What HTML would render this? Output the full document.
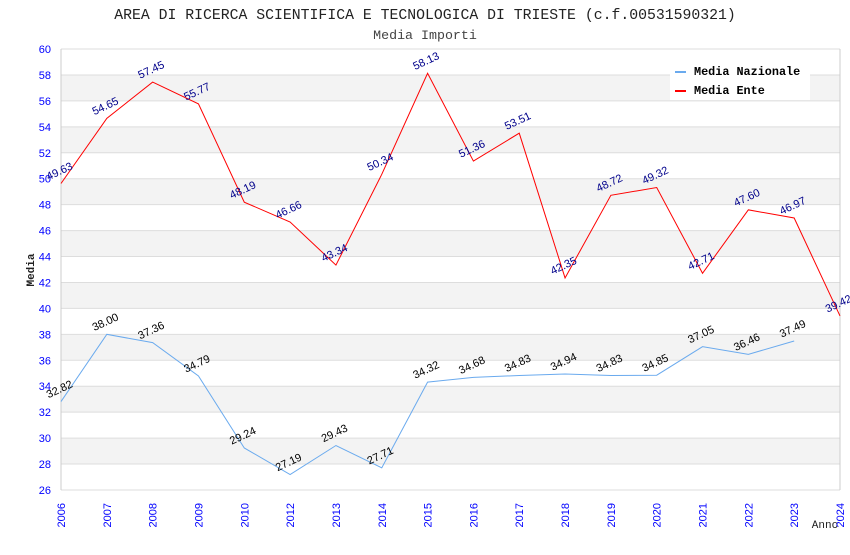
<!DOCTYPE html>
<html><head><meta charset="utf-8"><style>
body{margin:0;background:#fff;width:850px;height:550px;overflow:hidden}
svg text{font-family:"Liberation Sans",sans-serif}
.mono{font-family:"Liberation Mono","DejaVu Sans Mono",monospace}
</style></head><body>
<svg id="c" width="850" height="550" xmlns="http://www.w3.org/2000/svg">
<text class="mono" x="425" y="19" text-anchor="middle" font-size="14.8" fill="#222">AREA DI RICERCA SCIENTIFICA E TECNOLOGICA DI TRIESTE (c.f.00531590321)</text>
<text class="mono" x="425" y="39" text-anchor="middle" font-size="13.3" fill="#444">Media Importi</text>
<text class="mono" x="34" y="270" text-anchor="middle" font-size="11" font-weight="bold" fill="#222" transform="rotate(-90 34 270)">Media</text>
<text class="mono" x="825" y="528" text-anchor="middle" font-size="11" fill="#222">Anno</text>
<g id="bands"></g><g id="grid"></g><g id="ticks"></g><g id="lines"></g><g id="labels"></g>
<g>
<rect x="670" y="60" width="140" height="40" fill="#fff"/>
<line x1="675" y1="72" x2="686" y2="72" stroke="#6aaaee" stroke-width="2"/>
<text class="mono" x="694" y="75" font-size="11.8" font-weight="bold" fill="#000">Media Nazionale</text>
<line x1="675" y1="91" x2="686" y2="91" stroke="#f00" stroke-width="2"/>
<text class="mono" x="694" y="94" font-size="11.8" font-weight="bold" fill="#000">Media Ente</text>
</g>
</svg>
<script>
const years=["2006","2007","2008","2009","2010","2012","2013","2014","2015","2016","2017","2018","2019","2020","2021","2022","2023","2024"];
const nazionale=[32.82,38.00,37.36,34.79,29.24,27.19,29.43,27.71,34.32,34.68,34.83,34.94,34.83,34.85,37.05,36.46,37.49];
const ente=[49.63,54.65,57.45,55.77,48.19,46.66,43.34,50.34,58.13,51.36,53.51,42.35,48.72,49.32,42.71,47.60,46.97,39.42];
const yTicks=[26,28,30,32,34,36,38,40,42,44,46,48,50,52,54,56,58,60];
const NS="http://www.w3.org/2000/svg";
const x0=61,x1=840,y0=490,y1=49,ymin=26,ymax=60;
const X=i=>x0+i*(x1-x0)/(years.length-1);
const Y=v=>y0-(v-ymin)*(y0-y1)/(ymax-ymin);
function mk(t,a,p){const e=document.createElementNS(NS,t);for(const k in a)e.setAttribute(k,a[k]);document.getElementById(p).appendChild(e);return e;}
for(let v=28;v<ymax;v+=4){const r=mk('rect',{x:x0,y:Y(v+2),width:x1-x0,height:Y(v)-Y(v+2),fill:'#f3f3f3'},'bands');

}
yTicks.forEach(v=>{const l=mk('line',{x1:x0,x2:x1,y1:Y(v),y2:Y(v),stroke:'#ddd'},'grid');


const t=mk('text',{x:51,y:Y(v)+4,'text-anchor':'end','font-size':11,fill:'#00f'},'ticks');t.textContent=v;

});
const fr=mk('path',{d:`M${x0} ${y1}V${y0}M${x1} ${y1}V${y0}`,stroke:'#ccc',fill:'none'},'grid');


years.forEach((y,i)=>{const t=mk('text',{x:X(i)+4,y:503,'text-anchor':'end','font-size':11,fill:'#00f',transform:`rotate(-90 ${X(i)+4} 503)`},'ticks');t.textContent=y;

});
function series(d,col,lc,name){const p=mk('polyline',{points:d.map((v,i)=>X(i)+','+Y(v)).join(' '),fill:'none',stroke:col,'stroke-width':1},'lines');


d.forEach((v,i)=>{const x=X(i),y=Y(v)-9;const t=mk('text',{x:x,y:y,'text-anchor':'middle','font-size':11,fill:lc,transform:`rotate(-25 ${x} ${y})`},'labels');t.textContent=v.toFixed(2);

});}
series(nazionale,'#6aaaee','#000','nazionale');
series(ente,'#f00','#00008b','ente');
</script>
</body></html>
